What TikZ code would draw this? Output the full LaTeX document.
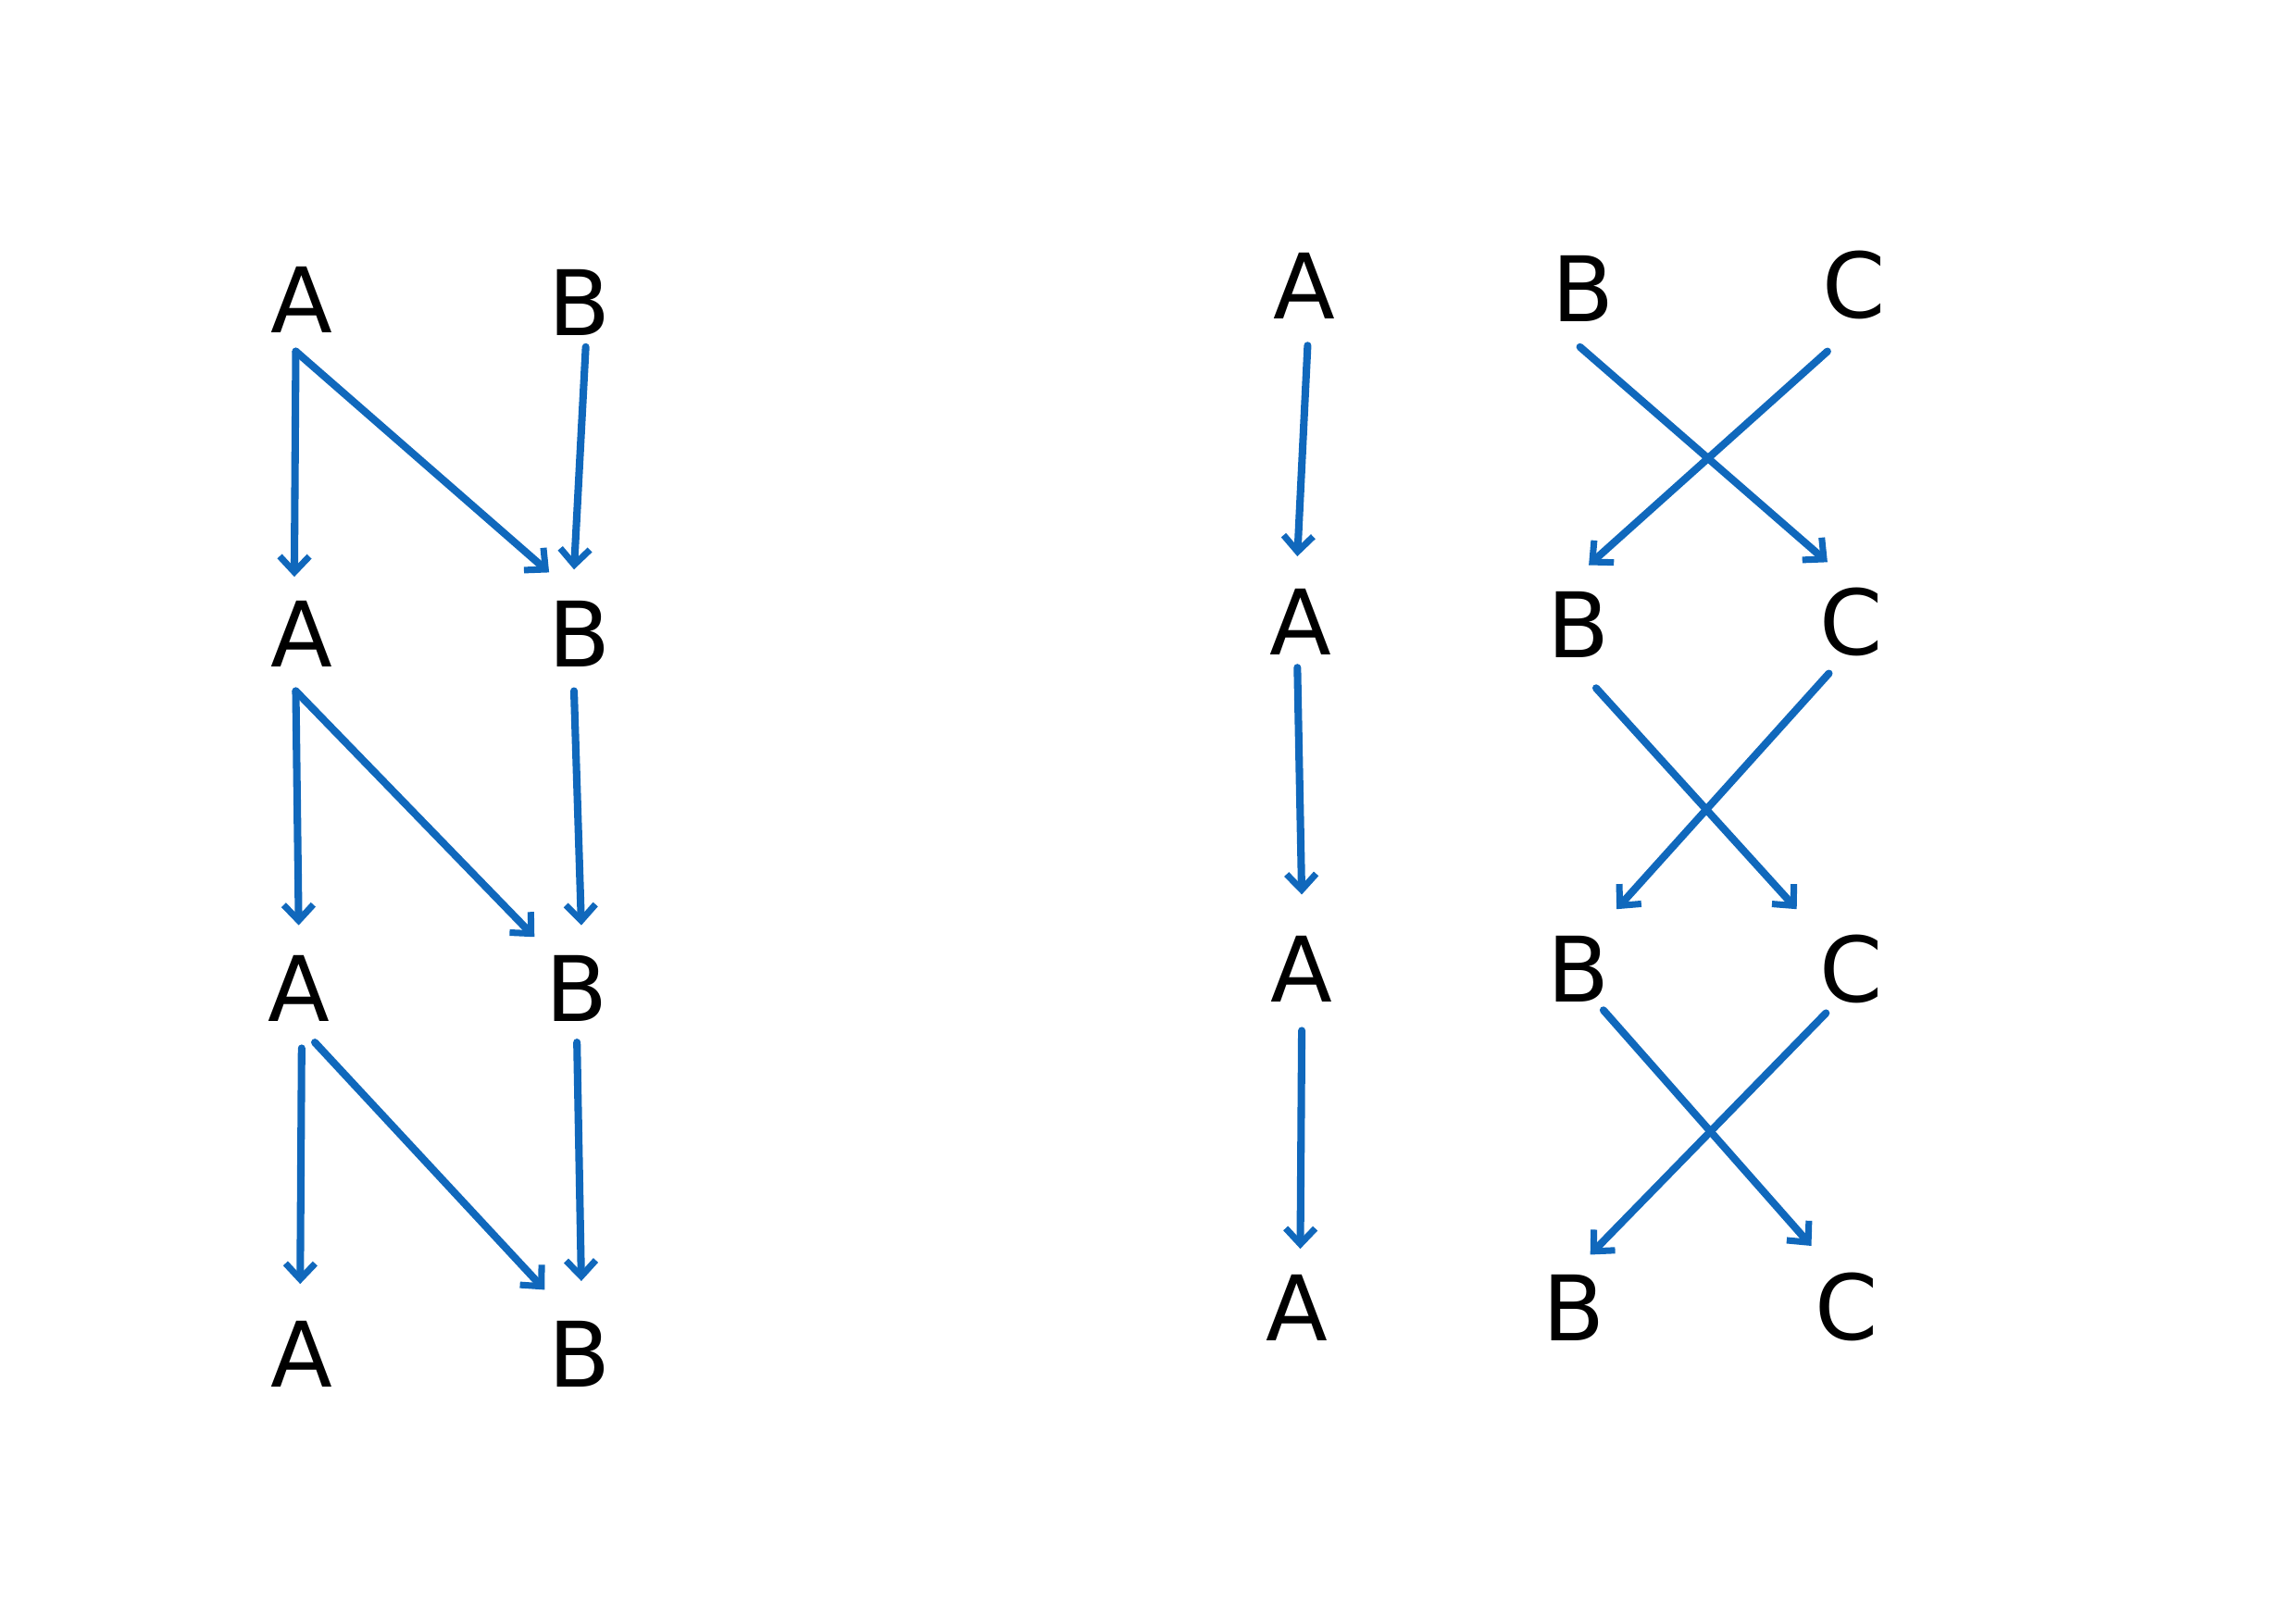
\documentclass[tikz,border=0pt]{standalone}
\usepackage{fontspec}
\setmainfont{DejaVu Sans}
\usetikzlibrary{arrows.meta}
\definecolor{arrowblue}{RGB}{16,104,188}
\begin{document}
\begin{tikzpicture}[x=0.015816cm,y=-0.015816cm,
  lab/.style={inner sep=0pt,font=\fontsize{27.8pt}{30pt}\selectfont},
  conn/.style={draw=arrowblue,line width=2.3pt,line cap=round,
    -{Straight Barb[length=0.17cm,width=0.32cm,line width=2pt]}}]
\useasboundingbox (0,0) rectangle (1568,1105);
% left panel letters
\node[lab] (la1) at (206,205) {A};
\node[lab] (lb1) at (396,207) {B};
\node[lab] (la2) at (206,433) {A};
\node[lab] (lb2) at (396,433) {B};
\node[lab] (la3) at (204,675) {A};
\node[lab] (lb3) at (394,675) {B};
\node[lab] (la4) at (206,925) {A};
\node[lab] (lb4) at (396,925) {B};
% right panel letters
\node[lab] (ra1) at (891,195) {A};
\node[lab] (rb1) at (1081,197) {B};
\node[lab] (rc1) at (1266,195) {C};
\node[lab] (ra2) at (888,425) {A};
\node[lab] (rb2) at (1078,427) {B};
\node[lab] (rc2) at (1264,425) {C};
\node[lab] (ra3) at (889,662) {A};
\node[lab] (rb3) at (1078,662) {B};
\node[lab] (rc3) at (1264,662) {C};
\node[lab] (ra4) at (886,893) {A};
\node[lab] (rb4) at (1075,893) {B};
\node[lab] (rc4) at (1261,893) {C};
% connector end points
\coordinate (p1s) at (202,240); \coordinate (p1e) at (201,394);
\coordinate (p2s) at (202,240); \coordinate (p2e) at (375,391);
\coordinate (p3s) at (400,237); \coordinate (p3e) at (392,389);
\coordinate (p4s) at (202,472); \coordinate (p4e) at (204,632);
\coordinate (p5s) at (202,472); \coordinate (p5e) at (365,640);
\coordinate (p6s) at (392,472); \coordinate (p6e) at (397,632);
\coordinate (p7s) at (206,716); \coordinate (p7e) at (205,877);
\coordinate (p8s) at (215,712); \coordinate (p8e) at (372,881);
\coordinate (p9s) at (394,712); \coordinate (p9e) at (397,875);
\coordinate (q1s) at (893,236); \coordinate (q1e) at (886,380);
\coordinate (q2s) at (1079,237); \coordinate (q2e) at (1248,384);
\coordinate (q3s) at (1248,240); \coordinate (q3e) at (1085,386);
\coordinate (q4s) at (886,456); \coordinate (q4e) at (889,611);
\coordinate (q5s) at (1090,470); \coordinate (q5e) at (1227,621);
\coordinate (q6s) at (1249,460); \coordinate (q6e) at (1104,621);
\coordinate (q7s) at (889,704); \coordinate (q7e) at (888,853);
\coordinate (q8s) at (1095,690); \coordinate (q8e) at (1237,851);
\coordinate (q9s) at (1247,692); \coordinate (q9e) at (1086,857);
\foreach \c in {p1,p2,p3,p4,p5,p6,p7,p8,p9,q1,q2,q3,q4,q5,q6,q7,q8,q9}
  \draw[conn] (\c s) -- (\c e);
\end{tikzpicture}
\end{document}
